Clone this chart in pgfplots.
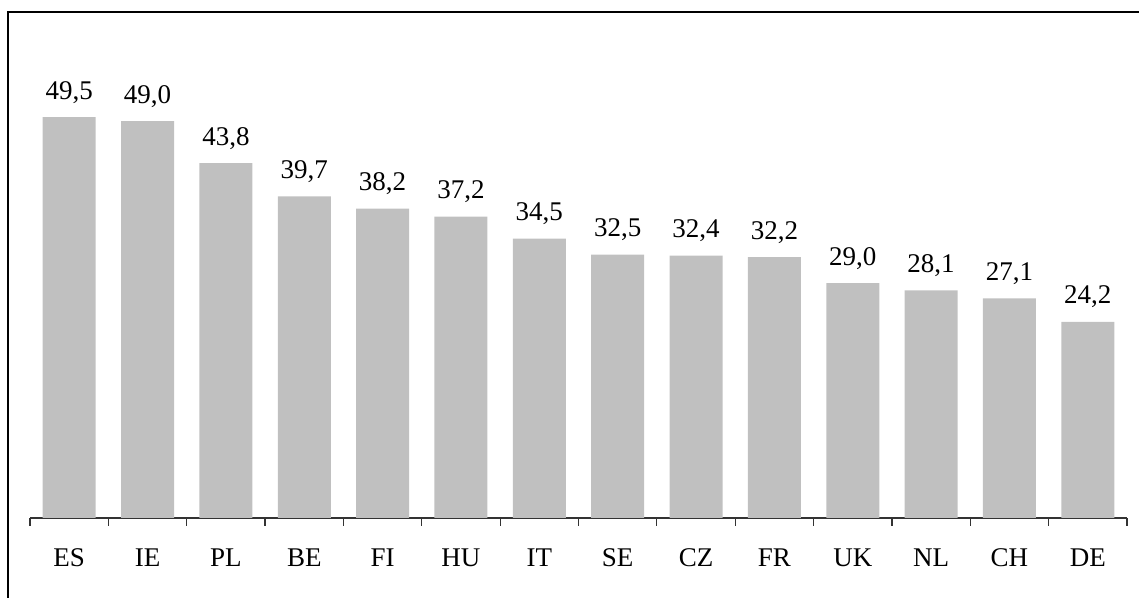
\documentclass[border=0pt]{standalone}
\usepackage{pgfplots}
\pgfplotsset{compat=1.18}
\usepackage{pgfplotstable}
\usepackage{fontspec}
\setmainfont{Liberation Serif}
\definecolor{bargray}{HTML}{C0C0C0}
\pgfplotstableread{
x y label
0 49.5 {49,5}
1 49.0 {49,0}
2 43.8 {43,8}
3 39.7 {39,7}
4 38.2 {38,2}
5 37.2 {37,2}
6 34.5 {34,5}
7 32.5 {32,5}
8 32.4 {32,4}
9 32.2 {32,2}
10 29.0 {29,0}
11 28.1 {28,1}
12 27.1 {27,1}
13 24.2 {24,2}
}\datatable
\begin{document}
\begin{tikzpicture}
\begin{axis}[
  at={(0pt,0pt)}, anchor=south west,
  scale only axis,
  width=548.5pt, height=243pt,
  xmin=-0.5, xmax=13.5, ymin=0, ymax=60,
  axis x line*=bottom,
  axis y line=none,
  x axis line style={black!80, line width=0.6pt},
  xtick={0,...,13},
  xticklabels={ES,IE,PL,BE,FI,HU,IT,SE,CZ,FR,UK,NL,CH,DE},
  major tick length=0pt,
  minor xtick={-0.5,0.5,...,13.5},
  minor tick length=4pt,
  tick align=outside,
  minor tick style={black!80, line width=0.6pt},
  xticklabel style={font=\fontsize{13.5}{16}\selectfont, anchor=base, yshift=-24.5pt, inner sep=0pt},
  ybar, bar width=26.5pt, bar shift=0pt,
  point meta=explicit symbolic,
  nodes near coords,
  nodes near coords style={font=\fontsize{13.5}{16}\selectfont, anchor=base, inner sep=0pt, yshift=9pt},
  clip=false,
]
\addplot[fill=bargray, draw=none] table[x=x, y=y, meta=label] {\datatable};
\end{axis}
\draw[black, line width=1pt] (554.5pt,253pt) -- (-11pt,253pt) -- (-11pt,-40pt);
\pgfresetboundingbox
\path[use as bounding box] (-15pt,-40pt) rectangle (554.5pt,259pt);
\end{tikzpicture}
\end{document}
